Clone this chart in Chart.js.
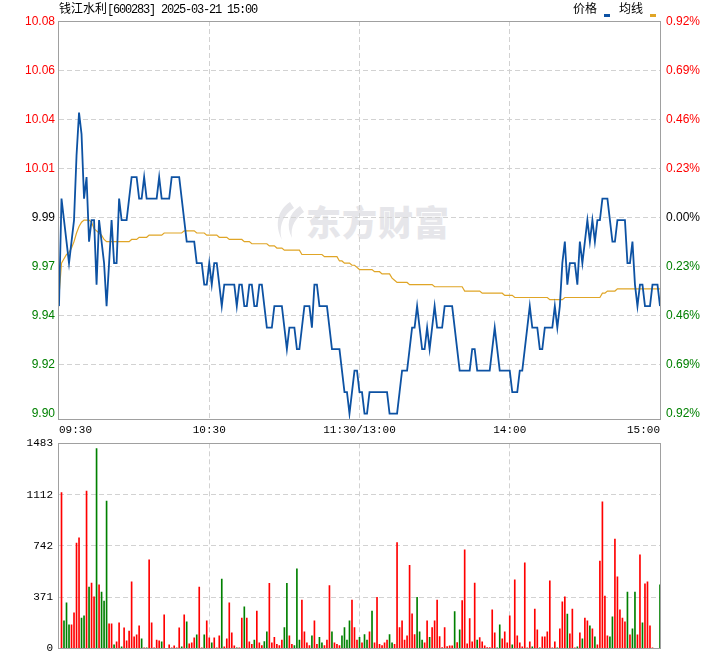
<!DOCTYPE html>
<html>
<head>
<meta charset="utf-8">
<script src="https://cdn.jsdelivr.net/npm/chart.js@4.4.1/dist/chart.umd.min.js"></script>
<style>
  html, body { margin: 0; padding: 0; background: #fff; }
  #wrap { position: relative; width: 720px; height: 655px; overflow: hidden; }
  canvas { position: absolute; left: 0; z-index: 1; }
  #priceCanvas { top: 0; }
  #volCanvas { top: 430px; }
  .txt { position: absolute; font-size: 12px; line-height: 16px; color: #000; white-space: nowrap; z-index: 2; }
  .cjk { font-family: "Noto Sans CJK SC", sans-serif; }
  .mono { font-family: "Liberation Mono", monospace; letter-spacing: -1.2px; }
  .dash { position: absolute; width: 6px; height: 3px; z-index: 2; }
  #mark { position: absolute; left: 306px; top: 195px; font-family: "Noto Sans CJK SC", sans-serif;
          font-weight: 900; font-size: 35px; color: #e6e6ea; letter-spacing: 1px; z-index: 0; }
  #logo { position: absolute; left: 268px; top: 200px; z-index: 0; }
</style>
</head>
<body>
<div id="wrap">
  <svg id="logo" width="40" height="42" viewBox="0 0 40 42">
    <path d="M22 2 C10 10 6 24 14 40 C10 26 16 14 26 8 Z" fill="#e6e6ea"/>
    <path d="M32 6 C20 14 18 26 24 38 C22 26 28 18 36 12 Z" fill="#e6e6ea"/>
  </svg>
  <div id="mark">东方财富</div>
  <div class="txt" style="left:59px;top:0px;"><span class="cjk">钱江水利</span><span class="mono">[600283] 2025-03-21 15:00</span></div>
  <div class="txt cjk" style="left:573px;top:0px;">价格</div>
  <div class="dash" style="left:604px;top:14px;background:#0d52a3;"></div>
  <div class="txt cjk" style="left:619px;top:0px;">均线</div>
  <div class="dash" style="left:650px;top:14px;background:#e0a526;"></div>
  <canvas id="priceCanvas" width="720" height="440"></canvas>
  <canvas id="volCanvas" width="720" height="225"></canvas>
</div>
<script>
// 分时价格 (每分钟, 09:30 - 15:00, 241 点)
const priceVals = [
  9.95, 10.00, 9.99, 9.98, 9.97, 9.98, 9.99, 10.02, 10.04, 10.03,
  10.00, 10.01, 9.98, 9.99, 9.99, 9.96, 9.99, 9.98, 9.97, 9.95,
  9.97, 9.99, 9.97, 9.97, 10.00, 9.99, 9.99, 9.99, 10.00, 10.01,
  10.01, 10.01, 10.00, 10.00, 10.01, 10.00, 10.00, 10.00, 10.00, 10.00,
  10.01, 10.00, 10.00, 10.00, 10.00, 10.01, 10.01, 10.01, 10.01, 10.00,
  9.99, 9.98, 9.98, 9.98, 9.98, 9.97, 9.97, 9.97, 9.96, 9.96,
  9.97, 9.96, 9.97, 9.97, 9.96, 9.95, 9.96, 9.96, 9.96, 9.96,
  9.96, 9.95, 9.96, 9.96, 9.95, 9.95, 9.96, 9.96, 9.95, 9.95,
  9.96, 9.96, 9.95, 9.94, 9.94, 9.94, 9.95, 9.95, 9.95, 9.95,
  9.94, 9.93, 9.94, 9.94, 9.94, 9.93, 9.93, 9.94, 9.95, 9.95,
  9.95, 9.94, 9.96, 9.96, 9.95, 9.95, 9.95, 9.95, 9.94, 9.93,
  9.93, 9.93, 9.93, 9.92, 9.91, 9.91, 9.90, 9.91, 9.92, 9.92,
  9.91, 9.91, 9.90, 9.90, 9.91, 9.91, 9.91, 9.91, 9.91, 9.91,
  9.91, 9.91, 9.90, 9.90, 9.90, 9.90, 9.91, 9.92, 9.92, 9.92,
  9.93, 9.94, 9.94, 9.95, 9.94, 9.93, 9.93, 9.94, 9.93, 9.94,
  9.95, 9.94, 9.94, 9.94, 9.95, 9.95, 9.95, 9.95, 9.94, 9.93,
  9.92, 9.92, 9.92, 9.92, 9.92, 9.93, 9.93, 9.92, 9.92, 9.92,
  9.92, 9.92, 9.92, 9.93, 9.94, 9.93, 9.92, 9.92, 9.92, 9.92,
  9.92, 9.91, 9.91, 9.91, 9.92, 9.92, 9.93, 9.94, 9.95, 9.94,
  9.94, 9.94, 9.93, 9.93, 9.94, 9.94, 9.94, 9.94, 9.95, 9.94,
  9.95, 9.97, 9.98, 9.96, 9.97, 9.97, 9.97, 9.96, 9.98, 9.97,
  9.98, 9.99, 9.98, 9.99, 9.98, 9.99, 9.99, 10.00, 10.00, 10.00,
  9.99, 9.98, 9.98, 9.99, 9.99, 9.99, 9.99, 9.97, 9.97, 9.98,
  9.96, 9.95, 9.96, 9.96, 9.95, 9.95, 9.95, 9.96, 9.96, 9.96,
  9.95
];

// 均价线
const avgVals = [
  9.955, 9.970, 9.972, 9.974, 9.975, 9.977, 9.980, 9.984, 9.987, 9.989,
  9.990, 9.990, 9.990, 9.989, 9.986, 9.985, 9.984, 9.983, 9.981, 9.980,
  9.980, 9.980, 9.980, 9.980, 9.980, 9.980, 9.980, 9.980, 9.980, 9.981,
  9.981, 9.981, 9.982, 9.982, 9.982, 9.982, 9.983, 9.983, 9.983, 9.983,
  9.983, 9.983, 9.984, 9.984, 9.984, 9.984, 9.984, 9.984, 9.984, 9.984,
  9.985, 9.985, 9.985, 9.985, 9.985, 9.984, 9.984, 9.984, 9.984, 9.983,
  9.983, 9.983, 9.983, 9.983, 9.982, 9.982, 9.982, 9.982, 9.981, 9.981,
  9.981, 9.981, 9.981, 9.981, 9.980, 9.980, 9.980, 9.979, 9.979, 9.979,
  9.979, 9.979, 9.979, 9.979, 9.978, 9.978, 9.978, 9.977, 9.977, 9.977,
  9.976, 9.976, 9.976, 9.976, 9.976, 9.976, 9.976, 9.974, 9.974, 9.974,
  9.974, 9.974, 9.974, 9.974, 9.974, 9.974, 9.973, 9.973, 9.973, 9.973,
  9.973, 9.973, 9.971, 9.971, 9.970, 9.970, 9.970, 9.969, 9.969, 9.968,
  9.967, 9.967, 9.967, 9.967, 9.967, 9.967, 9.966, 9.966, 9.966, 9.965,
  9.965, 9.965, 9.965, 9.963, 9.962, 9.961, 9.961, 9.961, 9.961, 9.961,
  9.960, 9.960, 9.960, 9.960, 9.960, 9.960, 9.960, 9.960, 9.960, 9.960,
  9.959, 9.959, 9.959, 9.959, 9.959, 9.959, 9.959, 9.959, 9.959, 9.959,
  9.959, 9.959, 9.957, 9.957, 9.957, 9.957, 9.957, 9.957, 9.957, 9.956,
  9.956, 9.956, 9.956, 9.956, 9.956, 9.956, 9.956, 9.956, 9.955, 9.955,
  9.955, 9.955, 9.954, 9.954, 9.954, 9.954, 9.954, 9.954, 9.954, 9.954,
  9.954, 9.954, 9.954, 9.954, 9.954, 9.954, 9.953, 9.953, 9.953, 9.953,
  9.953, 9.953, 9.954, 9.954, 9.954, 9.954, 9.954, 9.954, 9.954, 9.954,
  9.954, 9.954, 9.954, 9.954, 9.954, 9.954, 9.954, 9.956, 9.956, 9.957,
  9.957, 9.957, 9.957, 9.958, 9.958, 9.958, 9.958, 9.958, 9.958, 9.958,
  9.958, 9.958, 9.958, 9.958, 9.958, 9.958, 9.958, 9.958, 9.958, 9.958,
  9.958
];

// 成交量 (手)
const volVals = [
  null, 1126, 199, 329, 170, 170, 257, 762, 799, 220,
  235, 1138, 444, 473, 372, 1444, 459, 408, 343, 1066,
  177, 177, 25, 47, 184, 11, 148, 54, 126, 481,
  83, 98, 163, 69, 4, 4, 640, 184, 4, 61,
  54, 47, 242, 0, 25, 4, 18, 4, 148, 11,
  242, 192, 33, 40, 76, 98, 444, 4, 98, 199,
  76, 40, 76, 4, 90, 502, 11, 69, 329, 112,
  18, 4, 4, 220, 300, 220, 47, 30, 60, 270,
  40, 20, 50, 120, 470, 40, 80, 30, 20, 60,
  150, 470, 90, 30, 20, 575, 60, 350, 120, 40,
  20, 90, 200, 30, 80, 40, 20, 60, 455, 120,
  40, 30, 20, 90, 150, 60, 200, 350, 150, 60,
  80, 40, 100, 60, 120, 270, 40, 370, 30, 20,
  40, 60, 100, 40, 30, 765, 150, 200, 60, 90,
  600, 250, 100, 370, 120, 60, 40, 200, 80, 150,
  200, 350, 85, 6, 150, 13, 18, 18, 266, 42,
  134, 346, 712, 33, 216, 47, 473, 61, 78, 47,
  18, 6, 6, 278, 112, 4, 170, 69, 119, 40,
  235, 25, 495, 90, 40, 11, 618, 4, 47, 11,
  285, 134, 4, 83, 83, 119, 488, 4, 47, 4,
  141, 336, 372, 249, 105, 285, 4, 11, 112, 69,
  220, 199, 163, 141, 83, 25, 632, 1060, 379, 90,
  83, 228, 791, 517, 278, 220, 192, 408, 98, 141,
  408, 98, 676, 184, 466, 481, 163, 4, 0, 0,
  459
];

// 1 = 红(涨), -1 = 绿(跌)
const volDir = [
  0, 1, -1, -1, -1, 1, 1, 1, 1, -1,
  -1, 1, -1, 1, 1, -1, 1, -1, -1, -1,
  1, 1, -1, 1, 1, -1, 1, 1, 1, 1,
  1, 1, 1, -1, 1, -1, 1, 1, 1, 1,
  1, -1, 1, 1, 1, 1, 1, 1, 1, -1,
  1, -1, 1, 1, 1, -1, 1, 1, -1, 1,
  1, -1, 1, 1, 1, -1, 1, 1, 1, 1,
  1, -1, 1, 1, -1, 1, 1, 1, -1, 1,
  1, 1, -1, -1, 1, 1, 1, 1, 1, 1,
  -1, -1, 1, 1, -1, -1, -1, 1, 1, 1,
  1, -1, 1, 1, -1, -1, 1, 1, 1, -1,
  1, 1, 1, -1, -1, -1, -1, 1, 1, 1,
  -1, 1, -1, -1, 1, -1, 1, 1, 1, 1,
  1, 1, -1, -1, 1, 1, 1, 1, 1, 1,
  1, 1, 1, -1, -1, -1, 1, 1, -1, 1,
  1, 1, 1, 1, 1, 1, 1, 1, -1, 1,
  -1, 1, 1, 1, 1, 1, 1, -1, 1, 1,
  1, 1, 1, 1, 1, -1, -1, 1, 1, 1,
  1, -1, 1, 1, 1, 1, 1, 1, 1, -1,
  1, 1, -1, 1, 1, 1, 1, 1, 1, -1,
  1, 1, 1, -1, 1, 1, 1, -1, 1, -1,
  1, 1, -1, 1, -1, 1, 1, 1, 1, 1,
  -1, -1, 1, 1, 1, 1, 1, -1, 1, -1,
  -1, 1, 1, -1, 1, 1, 1, 1, 0, 0,
  -1
];

const xTickPos = [0, 60, 120, 180, 240];
const xTickLabels = ['09:30', '10:30', '11:30/13:00', '14:00', '15:00'];
const leftLabels = ['10.08', '10.06', '10.04', '10.01', '9.99', '9.97', '9.94', '9.92', '9.90'];
const rightLabels = ['0.92%', '0.69%', '0.46%', '0.23%', '0.00%', '0.23%', '0.46%', '0.69%', '0.92%'];
const labelColors = ['#ff0000', '#ff0000', '#ff0000', '#ff0000', '#000000', '#008000', '#008000', '#008000', '#008000'];
const volTicks = [0, 371, 742, 1112, 1483];

// 价格轴范围 (图上顶边 / 底边对应的价格), 刻度线位置
const priceMax = 10.0826, priceMin = 9.8975;
const tickHi = 10.0825, tickLo = 9.9002;
const priceTicks = leftLabels.map((_, k) => tickHi - k * (tickHi - tickLo) / 8);

const UP = '#ff0000', DOWN = '#008000';
const GRID = '#d2d2d2';
const DASH = [5, 3];

const frame = {
  id: 'frame',
  afterDraw(chart) {
    const { ctx, chartArea: a } = chart;
    ctx.save();
    ctx.strokeStyle = '#a0a0a0';
    ctx.lineWidth = 1;
    ctx.strokeRect(Math.round(a.left) - 0.5, Math.round(a.top) + 0.5,
      Math.round(a.right) - Math.round(a.left) + 1, Math.round(a.bottom) - Math.round(a.top));
    ctx.restore();
  }
};

const xGridColor = c => (c.tick && (c.tick.value === 0 || c.tick.value === 240)) ? 'rgba(0,0,0,0)' : GRID;

new Chart(document.getElementById('priceCanvas'), {
  type: 'line',
  data: {
    datasets: [
      { label: '价格', data: priceVals.map((v, i) => ({ x: i, y: v })), borderColor: '#0d52a3', borderWidth: 1.8, pointRadius: 0, tension: 0 },
      { label: '均线', data: avgVals.map((v, i) => ({ x: i, y: v })), borderColor: '#e0a526', borderWidth: 1.2, pointRadius: 0, tension: 0 }
    ]
  },
  options: {
    responsive: false,
    animation: false,
    devicePixelRatio: 1,
    layout: { padding: { top: 21, left: 0, right: 0, bottom: 0 } },
    plugins: { legend: { display: false }, tooltip: { enabled: false } },
    scales: {
      x: {
        type: 'linear', min: 0, max: 240,
        afterBuildTicks: s => { s.ticks = xTickPos.map(v => ({ value: v })); },
        afterFit: s => { s.height = 21; },
        grid: { drawTicks: false, color: xGridColor },
        border: { display: false, dash: DASH },
        ticks: {
          padding: 4, align: 'inner', maxRotation: 0, autoSkip: false, color: '#000',
          font: { family: 'Liberation Mono', size: 11 },
          callback: (v, i) => xTickLabels[i]
        }
      },
      y: {
        position: 'left', min: priceMin, max: priceMax,
        afterBuildTicks: s => { s.ticks = priceTicks.map(v => ({ value: v })); },
        afterFit: s => { s.width = 59; },
        grid: { drawTicks: false, color: c => (c.index === 0 || c.index === 8) ? 'rgba(0,0,0,0)' : GRID },
        border: { display: false, dash: DASH },
        ticks: {
          padding: 4, autoSkip: false, color: c => labelColors[c.index],
          font: { family: 'Liberation Sans', size: 12 },
          callback: (v, i) => leftLabels[i]
        }
      },
      y2: {
        position: 'right', min: priceMin, max: priceMax,
        afterBuildTicks: s => { s.ticks = priceTicks.map(v => ({ value: v })); },
        afterFit: s => { s.width = 60; },
        grid: { display: false, drawTicks: false },
        border: { display: false },
        ticks: {
          padding: 6, autoSkip: false, color: c => labelColors[c.index],
          font: { family: 'Liberation Sans', size: 12 },
          callback: (v, i) => rightLabels[i]
        }
      }
    }
  },
  plugins: [frame]
});

new Chart(document.getElementById('volCanvas'), {
  type: 'bar',
  data: {
    datasets: [{
      label: '成交量',
      data: volVals.map((v, i) => ({ x: i, y: v })),
      backgroundColor: c => volDir[c.dataIndex] > 0 ? UP : DOWN,
      barThickness: 1,
      borderWidth: 0
    }]
  },
  options: {
    responsive: false,
    animation: false,
    devicePixelRatio: 1,
    layout: { padding: { top: 13.3, left: 0, right: 60, bottom: 6.6 } },
    plugins: { legend: { display: false }, tooltip: { enabled: false } },
    scales: {
      x: {
        type: 'linear', min: 0, max: 240, offset: false,
        afterBuildTicks: s => { s.ticks = xTickPos.map(v => ({ value: v })); },
        afterFit: s => { s.height = 0; s.paddingTop = 0; s.paddingBottom = 0; },
        grid: { offset: false, drawTicks: false, color: xGridColor },
        border: { display: false, dash: DASH },
        ticks: { display: false, padding: 0 }
      },
      y: {
        min: 0, max: 1483,
        afterBuildTicks: s => { s.ticks = volTicks.map(v => ({ value: v })); },
        afterFit: s => { s.width = 59; s.paddingTop = 0; s.paddingBottom = 0; },
        grid: { drawTicks: false, color: c => (c.index === 0 || c.index === 4) ? 'rgba(0,0,0,0)' : GRID },
        border: { display: false, dash: DASH },
        ticks: {
          padding: 6, autoSkip: false, color: '#000',
          font: { family: 'Liberation Mono', size: 11 },
          callback: (v, i) => String(volTicks[i])
        }
      }
    }
  },
  plugins: [frame]
});
</script>
</body>
</html>
